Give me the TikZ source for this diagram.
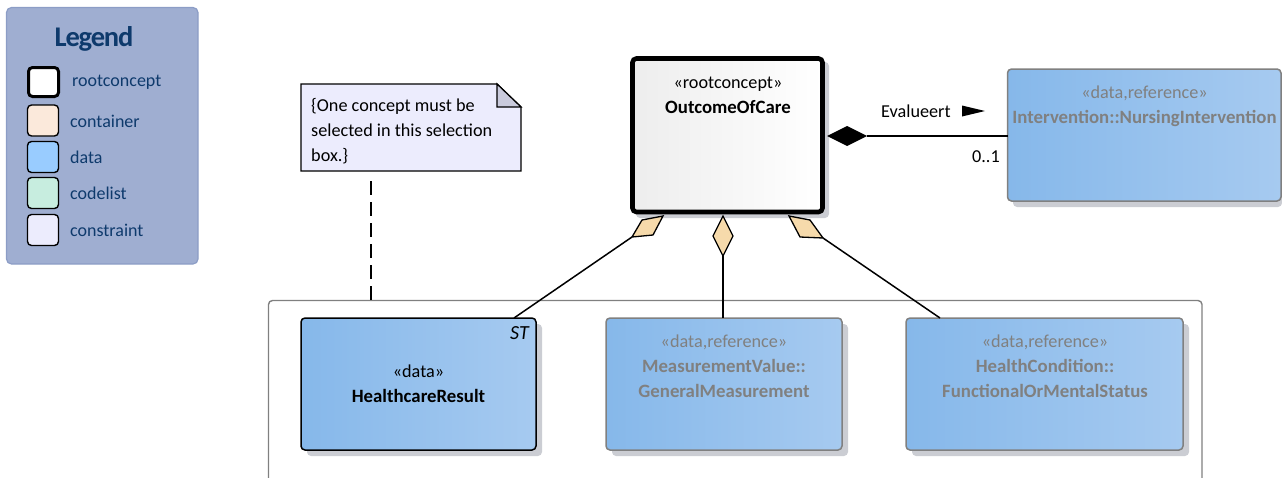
\documentclass[tikz,border=0pt]{standalone}
\usepackage{fontspec}
\setmainfont{Carlito}
\newcommand{\bt}[1]{{\fontsize{18.8}{25}\selectfont\bfseries #1}}
\usetikzlibrary{calc}
\definecolor{legfill}{HTML}{9FAED1}
\definecolor{legline}{HTML}{8C9DC6}
\definecolor{legtext}{HTML}{0E3A6C}
\definecolor{shadowc}{HTML}{CBCDD3}
\definecolor{dataL}{HTML}{86B8EA}
\definecolor{dataR}{HTML}{A6CAF0}
\definecolor{grayt}{HTML}{808080}
\definecolor{diam}{HTML}{F6DAAB}
\definecolor{notefill}{HTML}{ECECFD}
\definecolor{notefold}{HTML}{CACBDD}
\definecolor{swcont}{HTML}{FBE9DB}
\definecolor{swdata}{HTML}{99CCFF}
\definecolor{swcode}{HTML}{C7EDDF}
\tikzset{
  x=1pt,y=-1pt,
  txt/.style={inner sep=0pt,align=center,font=\fontsize{18.2}{25}\selectfont},
  legtxt/.style={inner sep=0pt,anchor=west,text=legtext,font=\fontsize{18}{20}\selectfont},
  swatch/.style={draw=black,line width=1.4pt,rounded corners=4pt,minimum width=31pt,minimum height=31pt,inner sep=0pt},
  shade box/.style={rounded corners=4pt,left color=dataL,right color=dataR},
  conn/.style={draw=black,line width=1.5pt},
  aggr/.style={draw=black,line width=1.3pt,fill=diam,line join=miter},
}
\begin{document}
\begin{tikzpicture}
\useasboundingbox (0,0) rectangle (1282,477);
% legend
\draw[fill=legfill,draw=legline,line width=1.2pt,rounded corners=5pt] (6.5,7.5) rectangle (198,264);
\node[inner sep=0pt,text=legtext,font=\fontsize{28.5}{30}\selectfont\bfseries\addfontfeature{LetterSpace=-4}] (legendtitle) at (94,38.5) {Legend};
\node[swatch,line width=3pt,fill=white,minimum width=30pt,minimum height=29pt] (s1) at (43.5,82) {};
\node[swatch,fill=swcont] (s2) at (43,120.5) {};
\node[swatch,fill=swdata] (s3) at (43,157) {};
\node[swatch,fill=swcode] (s4) at (43,193) {};
\node[swatch,fill=notefill] (s5) at (43,230) {};
\node[legtxt] (t1) at (72,82) {rootconcept};
\node[legtxt] (t2) at (70,121) {container};
\node[legtxt] (t3) at (70,157) {data};
\node[legtxt] (t4) at (70,193) {codelist};
\node[legtxt] (t5) at (70,230) {constraint};
% frame
\draw[draw=grayt,line width=1.4pt,rounded corners=4pt] (268.5,490) -- (268.5,300.5) -- (1202,300.5) -- (1202,490);
% root
\fill[shadowc,rounded corners=4pt] (636,62) rectangle (829,218);
\draw[line width=4.6pt,rounded corners=4pt,left color=black!7,right color=white] (632.5,58.5) rectangle (822.5,212);
\node[txt,anchor=north] (roottext) at (728,76.5) {«rootconcept»\\\bt{OutcomeOfCare}};
% intervention
\fill[shadowc,rounded corners=4pt] (1013,75) rectangle (1282,207);
\draw[draw=grayt,line width=1.5pt,shade box] (1007.5,69) rectangle (1281,201);
\coordinate (intW) at (1007.5,136);
\node[txt,anchor=north,text=grayt] (inttext) at (1144.5,85.5) {«data,reference»\\\bt{Intervention::NursingIntervention}};
% note
\draw[line width=1.4pt,fill=notefill,line join=miter] (301,84) -- (497,84) -- (521,107) -- (521,171) -- (301,171) -- cycle;
\draw[line width=1.2pt,fill=notefold,line join=miter] (497,84) -- (521,107) -- (497,107) -- cycle;
\node[txt,anchor=north west,align=left] (notetext) at (311,98.5) {\{One concept must be\\selected in this selection\\box.\}};
\coordinate (noteS) at (371,181);
\coordinate (frameN) at (371,300.5);
\draw[black,line width=1.3pt,dash pattern=on 13.5pt off 7.5pt] (noteS) -- (frameN);
% data boxes
\fill[shadowc,rounded corners=4pt] (307,324) rectangle (542,456);
\draw[draw=black,line width=1.5pt,shade box] (301,318) rectangle (536,450);
\node[txt] (hrtext) at (418.5,384) {«data»\\\bt{HealthcareResult}};
\node[txt,anchor=north east,font=\fontsize{20}{22}\selectfont\itshape] (st) at (529,326) {ST};
\fill[shadowc,rounded corners=4pt] (612,324) rectangle (848,456);
\draw[draw=grayt,line width=1.5pt,shade box] (606,318) rectangle (842,450);
\node[txt,text=grayt] (mvtext) at (724,366) {«data,reference»\\\bt{MeasurementValue::}\\\bt{GeneralMeasurement}};
\fill[shadowc,rounded corners=4pt] (912,324) rectangle (1189,456);
\draw[draw=grayt,line width=1.5pt,shade box] (906,318) rectangle (1183,450);
\node[txt,text=grayt] (hctext) at (1045,366) {«data,reference»\\\bt{HealthCondition::}\\\bt{FunctionalOrMentalStatus}};
% aggregations
\coordinate (aL) at (632,237);
\coordinate (aM) at (723,256);
\coordinate (aR) at (823,238);
\coordinate (hrN) at (514,318);
\coordinate (mvN) at (723,318);
\coordinate (hcN) at (940,318);
\draw[conn] (aL) -- (hrN);
\draw[conn] (aM) -- (mvN);
\draw[conn] (aR) -- (hcN);
\draw[aggr] (663,216) -- (642,220) -- (aL) -- (653,235) -- cycle;
\draw[aggr] (723,216) -- (733,236) -- (aM) -- (713,236) -- cycle;
\draw[aggr] (789,216) -- (810,220) -- (aR) -- (800,237) -- cycle;
% composition
\coordinate (cTip) at (827,136);
\coordinate (cEnd) at (867,136);
\fill[black] (cTip) -- (847,126) -- (cEnd) -- (847,146) -- cycle;
\draw[conn] (cEnd) -- (intW);
\node[txt,anchor=west] (ev) at (881,111) {Evalueert};
\fill[black] (962,105.5) -- (985,111) -- (962,116.5) -- cycle;
\node[txt,anchor=east] (mult) at (1000,157) {0..1};
\end{tikzpicture}
\end{document}
